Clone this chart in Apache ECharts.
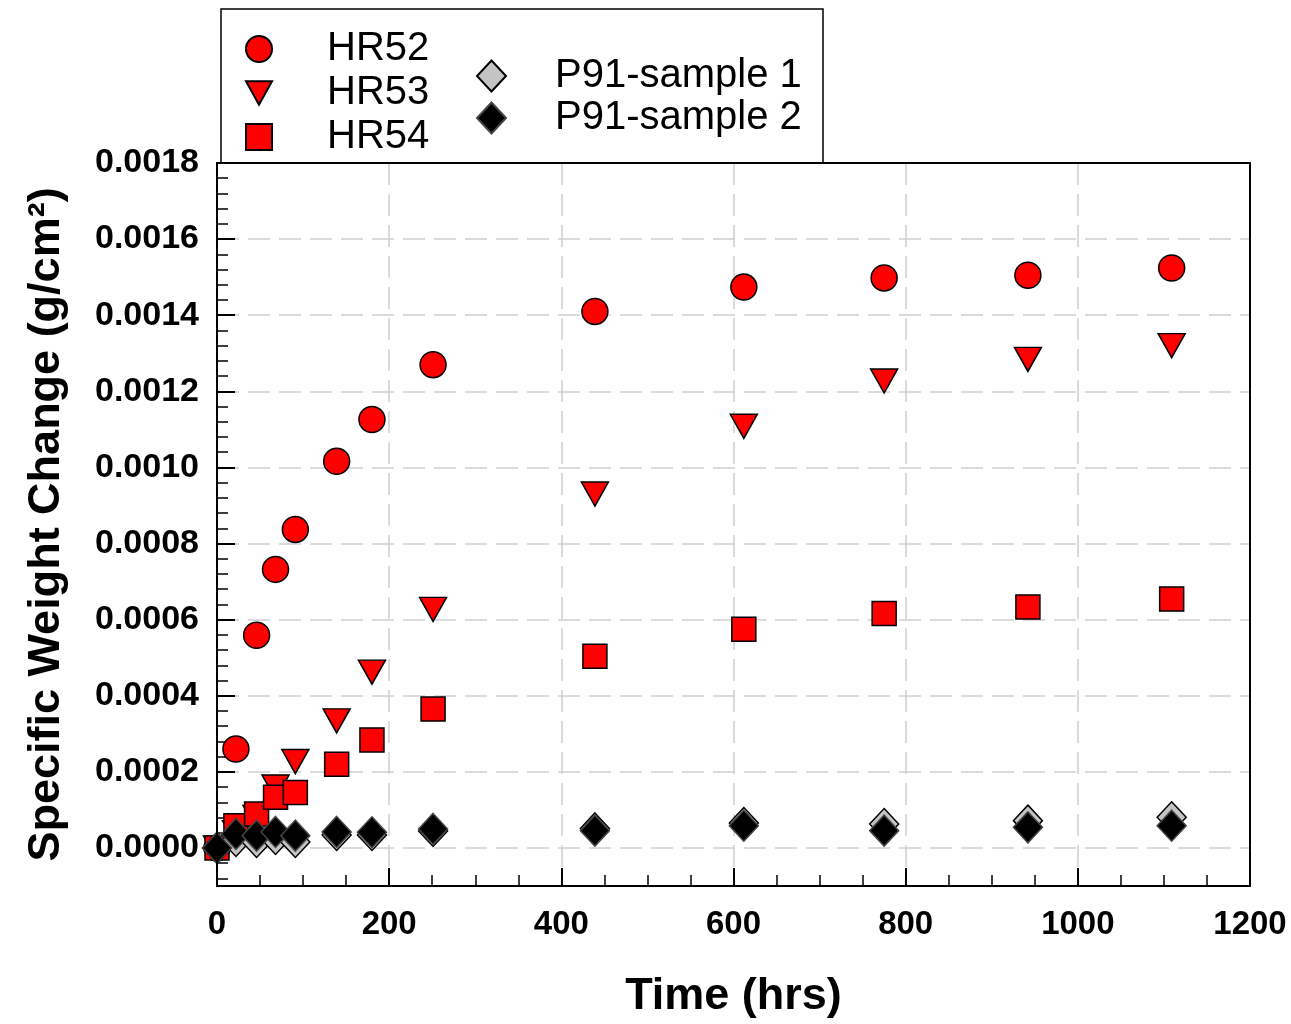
<!DOCTYPE html>
<html>
<head>
<meta charset="utf-8">
<script src="https://cdn.jsdelivr.net/npm/echarts@6/dist/echarts.min.js"></script>
<style>
  html, body { margin: 0; padding: 0; background: #fff; }
  #chart { width: 1291px; height: 1024px; }
</style>
</head>
<body>
<div id="chart"></div>
<script>
// Exposure times (hrs)
const times = [0, 22, 46, 68, 91, 139, 180, 251, 439, 612, 775, 942, 1109];

// Specific weight change (g/cm^2) per alloy
const hr52 = [0, 0.000260, 0.000559, 0.000732, 0.000837, 0.001016, 0.001126, 0.001270, 0.001410, 0.001474, 0.001498, 0.001505, 0.001524];
const hr53 = [0, 0.000040, 0.000080, 0.000160, 0.000227, 0.000334, 0.000462, 0.000627, 0.000930, 0.001108, 0.001227, 0.001284, 0.001320];
const hr54 = [0, 0.0000585, 0.0000893, 0.000133, 0.000146, 0.000220, 0.000284, 0.000365, 0.000504, 0.000575, 0.000616, 0.000633, 0.000654];
const p91s1 = [0, 0.0000184, 0.0000158, 0.0000236, 0.0000158, 0.0000341, 0.0000341, 0.0000446, 0.0000512, 0.0000656, 0.0000630, 0.0000717, 0.0000806];
const p91s2 = [0, 0.0000368, 0.0000323, 0.0000420, 0.0000323, 0.0000420, 0.0000412, 0.0000499, 0.0000454, 0.0000585, 0.0000454, 0.0000543, 0.0000585];

const seriesNames = ['HR52', 'HR53', 'HR54', 'P91-sample 1', 'P91-sample 2'];

// X axis: 0–1200 hrs, labelled every 200
const xMin = 0, xMax = 1200, xStep = 200;
// Y axis: a little below zero up to 0.0018, labelled every 0.0002
const yMin = -0.0001, yMax = 0.0018, yStep = 0.0002;

const pairs = (ys) => times.map((t, i) => [t, ys[i]]);

const chart = echarts.init(document.getElementById('chart'), null, { renderer: 'canvas' });

const FONT = 'Liberation Sans, Arial, sans-serif';
const red = { color: '#ff0000', borderColor: '#000', borderWidth: 1.5, opacity: 1 };
const downTriangle = 'path://M0,0L20,0L10,18Z';

const gridLeft = 217, gridRight = 41, gridTop = 163, gridBottom = 138;
const W = 1291, H = 1024;

const option = {
  backgroundColor: '#ffffff',
  animation: false,
  textStyle: { fontFamily: FONT },
  grid: {
    left: gridLeft, right: gridRight, top: gridTop, bottom: gridBottom,
    show: true, borderColor: '#000', borderWidth: 2, backgroundColor: '#fff'
  },
  graphic: [
    {
      type: 'rect', z: 1,
      shape: { x: 221, y: 9, width: 602, height: 154 },
      style: { fill: '#fff', stroke: '#000', lineWidth: 1.5 }
    },
    {
      // plot frame drawn above the dashed grid lines
      type: 'rect', z: 3, silent: true,
      shape: { x: gridLeft, y: gridTop, width: W - gridLeft - gridRight, height: H - gridTop - gridBottom },
      style: { fill: null, stroke: '#000', lineWidth: 2 }
    }
  ],
  legend: [
    {
      data: [
        { name: 'HR52' },
        { name: 'HR53', icon: downTriangle },
        { name: 'HR54' }
      ],
      orient: 'vertical', left: 240, top: 24, z: 5,
      itemWidth: 26, itemHeight: 26, itemGap: 4,
      textStyle: { fontSize: 40, lineHeight: 30, color: '#000', padding: [0, 0, 0, 50], fontFamily: FONT }
    },
    {
      data: seriesNames.slice(3),
      orient: 'vertical', left: 471, top: 51, z: 5,
      itemWidth: 29, itemHeight: 31, itemGap: 2,
      textStyle: { fontSize: 40, lineHeight: 30, color: '#000', padding: [0, 0, 0, 44], fontFamily: FONT }
    }
  ],
  xAxis: {
    type: 'value', min: xMin, max: xMax, interval: xStep,
    name: 'Time (hrs)', nameLocation: 'middle', nameGap: 88,
    nameTextStyle: { fontSize: 45, fontWeight: 'bold', color: '#000' },
    axisLine: { show: true, onZero: false, lineStyle: { color: '#000', width: 2 } },
    axisTick: { show: true, inside: true, length: 18, lineStyle: { color: '#000', width: 2 } },
    minorTick: { show: true, splitNumber: 4, length: 11, lineStyle: { color: '#000', width: 1.5 } },
    axisLabel: { fontSize: 33, fontWeight: 'bold', color: '#000', margin: 22, formatter: (v) => String(v) },
    splitLine: { show: true, showMinLine: false, showMaxLine: false, lineStyle: { color: '#cfcfcf', width: 1.5, type: [22, 9] } }
  },
  yAxis: {
    type: 'value', min: yMin, max: yMax, minInterval: yStep, maxInterval: yStep, splitNumber: 10,
    name: 'Specific Weight Change (g/cm²)', nameLocation: 'middle', nameGap: 148,
    nameTextStyle: { fontSize: 45, fontWeight: 'bold', color: '#000' },
    axisLine: { show: true, onZero: false, lineStyle: { color: '#000', width: 2 } },
    axisTick: { show: true, inside: true, length: 18, lineStyle: { color: '#000', width: 2 } },
    minorTick: { show: true, splitNumber: 5, length: 11, lineStyle: { color: '#000', width: 1.5 } },
    axisLabel: {
      fontSize: 34, fontWeight: 'bold', color: '#000', margin: 18,
      formatter: (v) => (v < -1e-9 ? '' : v.toFixed(4))
    },
    splitLine: { show: true, showMinLine: false, showMaxLine: false, lineStyle: { color: '#cfcfcf', width: 1.5, type: [22, 9] } }
  },
  series: [
    {
      name: 'HR52', type: 'scatter', clip: false, data: pairs(hr52),
      symbol: 'circle', symbolSize: 26, itemStyle: red
    },
    {
      name: 'HR53', type: 'scatter', clip: false, data: pairs(hr53),
      symbol: 'triangle', symbolRotate: 180, symbolSize: [27, 24], itemStyle: red
    },
    {
      name: 'HR54', type: 'scatter', clip: false, data: pairs(hr54),
      symbol: 'rect', symbolSize: [24, 24], itemStyle: red
    },
    {
      name: 'P91-sample 1', type: 'scatter', clip: false, data: pairs(p91s1),
      symbol: 'diamond', symbolSize: [29, 31],
      itemStyle: { color: '#c4c4c4', borderColor: '#000', borderWidth: 1.5, opacity: 1 }
    },
    {
      name: 'P91-sample 2', type: 'scatter', clip: false, data: pairs(p91s2),
      symbol: 'diamond', symbolSize: [29, 31],
      itemStyle: { color: '#000', borderColor: '#444', borderWidth: 1.5, opacity: 1 }
    }
  ]
};

chart.setOption(option);
</script>
</body>
</html>
